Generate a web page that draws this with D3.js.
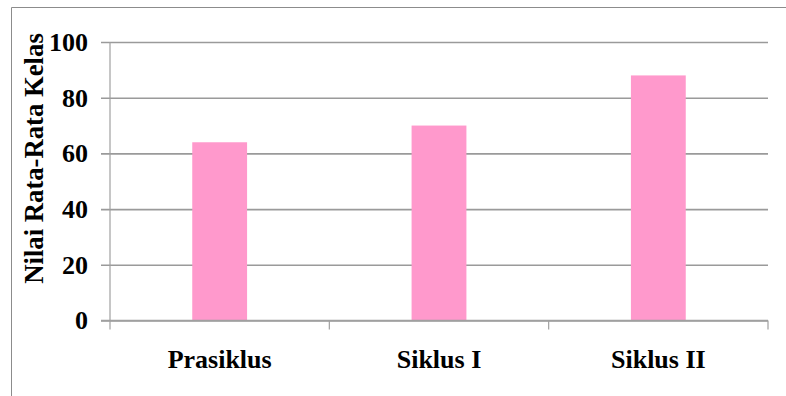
<!DOCTYPE html>
<html>
<head>
<meta charset="utf-8">
<script src="https://cdn.jsdelivr.net/npm/d3@7"></script>
<style>
  body { margin: 0; background: #fff; }
  svg { display: block; font-family: "Liberation Serif", "Times New Roman", serif; font-weight: bold; }
</style>
</head>
<body>
<div class="chart"></div>
<script>
// data
const categories = ['Prasiklus', 'Siklus I', 'Siklus II'];
const values = [64, 70, 88];
const yTicks = [0, 20, 40, 60, 80, 100];
const yLabel = 'Nilai Rata-Rata Kelas';

const svgWidth = 786;
const svgHeight = 396;
const plot = { left: 110, right: 768, top: 42, bottom: 320.5 };

const svg = d3.select('.chart')
  .append('svg')
  .attr('width', svgWidth)
  .attr('height', svgHeight);

// outer frame (only top and left edges visible)
svg.append('path')
  .attr('d', `M11.5,${svgHeight + 2}V7.5H${svgWidth + 2}`)
  .attr('fill', 'none')
  .attr('stroke', '#8c8c8c')
  .attr('stroke-width', 1);

const x = d3.scaleBand()
  .domain(categories)
  .range([plot.left, plot.right])
  .padding(0);

const y = d3.scaleLinear()
  .domain([0, 100])
  .range([plot.bottom, plot.top]);

// gridlines + y tick labels
const yAxis = d3.axisLeft(y)
  .tickValues(yTicks)
  .tickSize(plot.right - 101)
  .tickPadding(13)
  .tickFormat(d3.format('d'));

const yAxisGroup = svg.append('g')
  .attr('transform', `translate(${plot.right}, 0)`)
  .call(yAxis)
  .call(g => g.select('.domain').remove());

yAxisGroup.selectAll('.tick line')
  .attr('stroke', '#9a9a9a')
  .attr('stroke-width', 1.6);

yAxisGroup.selectAll('.tick text')
  .attr('fill', '#000')
  .attr('font-size', 26)
  .attr('font-family', '"Liberation Serif", serif')
  .attr('font-weight', 'bold');

// vertical axis line
svg.append('line')
  .attr('x1', plot.left).attr('x2', plot.left)
  .attr('y1', y(100)).attr('y2', y(0))
  .attr('stroke', '#a0a0a0')
  .attr('stroke-width', 1.2);

// bars
const barW = x.bandwidth() * 0.25;
svg.append('g')
  .selectAll('rect')
  .data(values)
  .join('rect')
  .attr('x', (d, i) => x(categories[i]) + (x.bandwidth() - barW) / 2)
  .attr('y', d => y(d))
  .attr('width', barW)
  .attr('height', d => y(0) - y(d))
  .attr('fill', '#ff99cc');

// x axis line and category boundary ticks
svg.append('line')
  .attr('x1', 101).attr('x2', plot.right)
  .attr('y1', y(0)).attr('y2', y(0))
  .attr('stroke', '#a0a0a0')
  .attr('stroke-width', 1.6);

const bounds = categories.map(c => x(c)).concat([x(categories[categories.length - 1]) + x.bandwidth()]);
svg.append('g')
  .selectAll('line')
  .data(bounds)
  .join('line')
  .attr('x1', d => d).attr('x2', d => d)
  .attr('y1', y(0)).attr('y2', y(0) + 9)
  .attr('stroke', '#a0a0a0')
  .attr('stroke-width', 1.2);

// category labels
const xAxis = d3.axisBottom(x).tickSize(0).tickPadding(29);
svg.append('g')
  .attr('transform', `translate(0, ${y(0)})`)
  .call(xAxis)
  .call(g => g.select('.domain').remove())
  .selectAll('text')
  .attr('fill', '#000')
  .attr('font-size', 26)
  .attr('font-family', '"Liberation Serif", serif')
  .attr('font-weight', 'bold');

// y axis title
svg.append('text')
  .attr('transform', `translate(43, ${(33 + 284) / 2}) rotate(-90)`)
  .attr('text-anchor', 'middle')
  .attr('font-size', 26.7)
  .attr('fill', '#000')
  .text(yLabel);
</script>
</body>
</html>
